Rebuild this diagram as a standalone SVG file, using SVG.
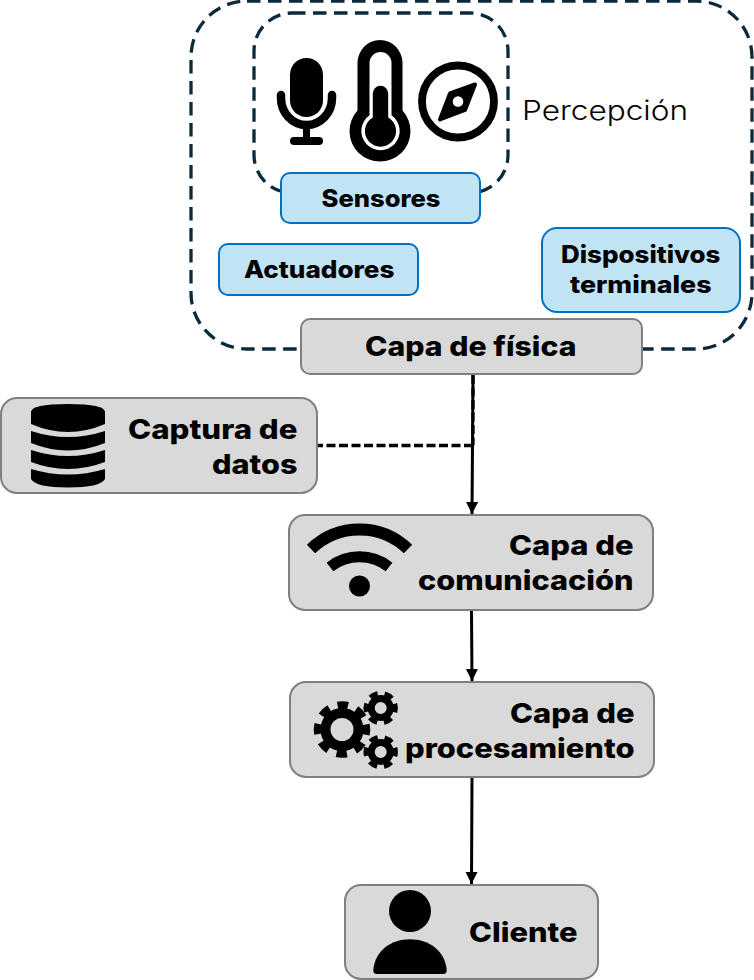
<svg xmlns="http://www.w3.org/2000/svg" xmlns:xlink="http://www.w3.org/1999/xlink" width="754" height="980" viewBox="0 0 754 980">
<style>
text{font-family:"Inter","Open Sans","Liberation Sans",sans-serif;fill:#000}
.t{font-size:27px;font-weight:800}
.s{font-size:24px;font-weight:800}
.l{font-size:27.5px;font-weight:300}
.g{fill:#d9d9d9;stroke:#7f7f7f;stroke-width:2}
.b{fill:#c1e4f5;stroke:#0070c0;stroke-width:2}
.d{fill:none;stroke:#0b2a3c;stroke-width:3.300;stroke-dasharray:13.500 7.500}
.c{fill:none;stroke:#000;stroke-width:3}
.k{stroke-width:3.300;stroke-dasharray:9 3.500}
</style>
<defs>
<marker id="a" markerUnits="userSpaceOnUse" markerWidth="13" markerHeight="13" refX="12" refY="6" orient="auto"><path d="M0,0L12,6L0,12Z" fill="#000"/></marker>
<g id="gear">
<circle r="16.500" fill="none" stroke="#000" stroke-width="10"/>
<circle r="24.500" fill="none" stroke="#000" stroke-width="7.500" stroke-dasharray="10.400 8.840" transform="rotate(-12)"/>
</g>
<g id="gear-small">
<circle r="9.500" fill="none" stroke="#000" stroke-width="7"/>
<circle r="14.700" fill="none" stroke="#000" stroke-width="5" stroke-dasharray="8.500 6.900" transform="rotate(-16.500)"/>
</g>
</defs>

<g id="perception-frames">
<rect class="d" x="191" y="1" width="561" height="348" rx="56"/>
<rect class="d" x="254" y="13" width="254" height="180" rx="38"/>
</g>

<g id="icon-mic">
<rect x="290" y="58" width="33" height="59" rx="16.500"/>
<path d="M281,95V98A25.500,27 0 0 0 332,98V95" fill="none" stroke="#000" stroke-width="8.500" stroke-linecap="round"/>
<rect x="303" y="125" width="7" height="16"/>
<rect x="290" y="137" width="33" height="8" rx="4"/>
</g>
<g id="icon-thermometer">
<path d="M357.500,63A22.500,23 0 0 1 402.500,63V110.500A30.500,30.500 0 1 1 357.500,110.500Z"/>
<path d="M369.500,63A11,11 0 0 1 391.500,63V115.300A19.200,19.200 0 1 1 369.500,115.300Z" fill="#fff"/>
<path d="M372.800,93.500A7.700,7.700 0 0 1 388.200,93.500V117.500A15.600,15.600 0 1 1 372.800,117.500Z"/>
</g>
<g id="icon-compass">
<circle cx="458" cy="101.500" r="36" fill="none" stroke="#000" stroke-width="7.800"/>
<path d="M475,84.500L465,110L440,119.500L450,93.500Z" stroke="#000" stroke-width="4" stroke-linejoin="round"/>
<circle cx="458" cy="101.500" r="5.300" fill="#fff"/>
</g>

<g id="connectors">
<path class="c" d="M473,375L472,514" marker-end="url(#a)"/>
<path class="c k" d="M473,445.500H317"/>
<path class="c k" d="M473,375V445"/>
<path class="c" d="M471.500,610L472,681" marker-end="url(#a)"/>
<path class="c" d="M472,777L471.500,884" marker-end="url(#a)"/>
</g>

<g id="node-sensores">
<rect class="b" x="281" y="173" width="199" height="50" rx="9"/>
<text class="s" x="321.500" y="207" textLength="119" lengthAdjust="spacingAndGlyphs">Sensores</text>
</g>
<g id="node-actuadores">
<rect class="b" x="219" y="244" width="199" height="51" rx="9"/>
<text class="s" x="244" y="278" textLength="150.500" lengthAdjust="spacingAndGlyphs">Actuadores</text>
</g>
<g id="node-dispositivos">
<rect class="b" x="542" y="228" width="198" height="84" rx="15"/>
<text class="s" x="561" y="263" textLength="159.500" lengthAdjust="spacingAndGlyphs">Dispositivos</text>
<text class="s" x="570" y="293" textLength="141.500" lengthAdjust="spacingAndGlyphs">terminales</text>
</g>
<g id="label-percepcion">
<text class="l" x="522" y="120" textLength="166" lengthAdjust="spacingAndGlyphs">Percepción</text>
</g>
<g id="node-fisica">
<rect class="g" x="301" y="319" width="341" height="55" rx="9"/>
<text class="t" x="365" y="356" textLength="211.500" lengthAdjust="spacingAndGlyphs">Capa de física</text>
</g>
<g id="node-captura">
<rect class="g" x="1" y="398" width="316" height="95" rx="16"/>
<path d="M31,412Q31,404 68,404Q105,404 105,412V424Q68,440 31,424Z"/>
<path d="M31,431Q68,443 105,431V443Q68,458 31,443Z"/>
<path d="M31,450Q68,462 105,450V462Q68,476 31,462Z"/>
<path d="M31,469Q68,480 105,469V479Q100,487.500 68,487.500Q36,487.500 31,479Z"/>
<text class="t" x="128" y="439" textLength="169.500" lengthAdjust="spacingAndGlyphs">Captura de</text>
<text class="t" x="212" y="474" textLength="85.500" lengthAdjust="spacingAndGlyphs">datos</text>
</g>
<g id="node-comunicacion">
<rect class="g" x="289" y="515" width="364" height="95" rx="16"/>
<path d="M311,549A70,70 0 0 1 408,549" fill="none" stroke="#000" stroke-width="12"/>
<path d="M330,567A48,48 0 0 1 389,567" fill="none" stroke="#000" stroke-width="11"/>
<circle cx="359.500" cy="586" r="10.500"/>
<text class="t" x="509" y="555" textLength="124.500" lengthAdjust="spacingAndGlyphs">Capa de</text>
<text class="t" x="418" y="590" textLength="215.500" lengthAdjust="spacingAndGlyphs">comunicación</text>
</g>
<g id="node-procesamiento">
<rect class="g" x="290" y="682" width="364" height="95" rx="16"/>
<use xlink:href="#gear" href="#gear" transform="translate(342,729.500)"/>
<use xlink:href="#gear-small" href="#gear-small" transform="translate(380.700,708)"/>
<use xlink:href="#gear-small" href="#gear-small" transform="translate(380.700,752)"/>
<text class="t" x="510" y="723" textLength="124.500" lengthAdjust="spacingAndGlyphs">Capa de</text>
<text class="t" x="405" y="758" textLength="229.500" lengthAdjust="spacingAndGlyphs">procesamiento</text>
</g>
<g id="node-cliente">
<rect class="g" x="345" y="885" width="253" height="94" rx="16"/>
<circle cx="410" cy="911" r="21"/>
<path d="M377,974Q373,974 373.300,970C375,950 392,939.300 410,939.300C428,939.300 445,950 446.700,970Q447,974 443,974Z"/>
<text class="t" x="469" y="942" textLength="108.500" lengthAdjust="spacingAndGlyphs">Cliente</text>
</g>
</svg>
